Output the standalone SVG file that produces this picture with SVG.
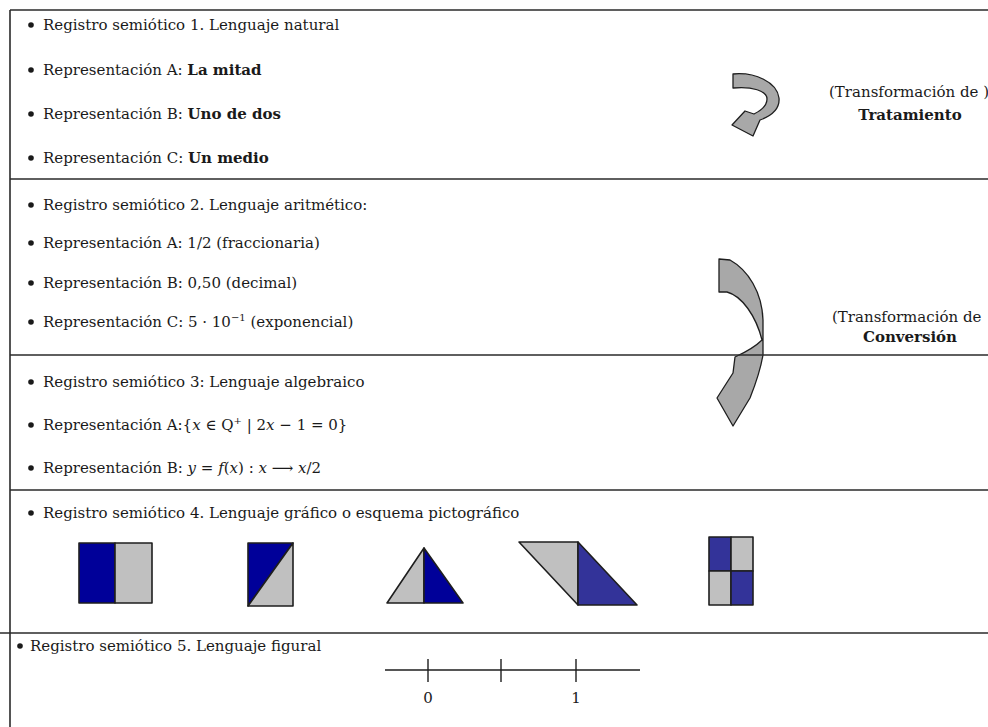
<svg xmlns="http://www.w3.org/2000/svg" width="988" height="727" viewBox="0 0 988 727">
<style>
.t{font-family:"DejaVu Serif","Liberation Serif",serif;font-size:15px;fill:#1a1a1a}
.b{font-weight:bold}
.i{font-style:italic}
.sup{font-size:10px}
.bul{fill:#1a1a1a}
.rule{stroke:#2a2a2a;stroke-width:1.6;fill:none}
.shp{stroke:#1e1e1e;stroke-width:1.6;stroke-linejoin:round}
.dk{fill:#000099}
.md{fill:#333399}
.gr{fill:#c0c0c0}
.arr{fill:#a8a8a8;stroke:#1e1e1e;stroke-width:1.3;stroke-linejoin:round}
.nl{stroke:#1e1e1e;stroke-width:1.4}
</style>
<rect width="988" height="727" fill="#ffffff"/>

<g id="connectors">
  <path id="arrow-tratamiento" class="arr" d="M733,74 C755,72 777,82 779,98 C780,109 771,116 760,120 L753,136 L732,125 L745,111 L754,114 C762,110 767,105 767,99 C767,91 752,86 733,88 Z"/>
  <path id="arrow-conversion" class="arr" d="M719,259 L730,260 C748,270 762,292 763,320 L763,355 C760,372 754,388 750,398 L733,426 L717,398 L733,373 L735,357 C746,352 756,346 762,340 C756,316 742,296 727,292 L719,292 Z"/>
</g>

<g id="frame">
  <line class="rule" x1="10" y1="10" x2="988" y2="10"/>
  <line class="rule" x1="10" y1="10" x2="10" y2="727"/>
  <line class="rule" x1="10" y1="179" x2="988" y2="179" stroke="#444"/>
  <line class="rule" x1="10" y1="355" x2="988" y2="355"/>
  <line class="rule" x1="10" y1="490" x2="988" y2="490"/>
  <line class="rule" x1="0" y1="633" x2="988" y2="633"/>
</g>

<g id="section1">
  <circle class="bul" cx="31" cy="25" r="2.8"/>
  <text class="t" x="43" y="30">Registro semiótico 1. Lenguaje natural</text>
  <circle class="bul" cx="31" cy="70" r="2.8"/>
  <text class="t" x="43" y="75">Representación A: <tspan class="b">La mitad</tspan></text>
  <circle class="bul" cx="31" cy="114" r="2.8"/>
  <text class="t" x="43" y="119">Representación B: <tspan class="b">Uno de dos</tspan></text>
  <circle class="bul" cx="31" cy="158" r="2.8"/>
  <text class="t" x="43" y="163">Representación C: <tspan class="b">Un medio</tspan></text>
</g>

<g id="label-tratamiento">
  <text class="t" x="829" y="97">(Transformación de )</text>
  <text class="t b" x="910" y="120" text-anchor="middle">Tratamiento</text>
</g>

<g id="section2">
  <circle class="bul" cx="31" cy="205" r="2.8"/>
  <text class="t" x="43" y="210">Registro semiótico 2. Lenguaje aritmético:</text>
  <circle class="bul" cx="31" cy="243" r="2.8"/>
  <text class="t" x="43" y="248">Representación A: 1/2 (fraccionaria)</text>
  <circle class="bul" cx="31" cy="283" r="2.8"/>
  <text class="t" x="43" y="288">Representación B: 0,50 (decimal)</text>
  <circle class="bul" cx="31" cy="322" r="2.8"/>
  <text class="t" x="43" y="327">Representación C: 5 · 10<tspan class="sup" dy="-6">−1</tspan><tspan dy="6"> (exponencial)</tspan></text>
</g>

<g id="label-conversion">
  <text class="t" x="832" y="322">(Transformación de</text>
  <text class="t b" x="910" y="342" text-anchor="middle">Conversión</text>
</g>

<g id="section3">
  <circle class="bul" cx="31" cy="382" r="2.8"/>
  <text class="t" x="43" y="387">Registro semiótico 3: Lenguaje algebraico</text>
  <circle class="bul" cx="31" cy="425" r="2.8"/>
  <text class="t" x="43" y="430">Representación A:{<tspan class="i">x</tspan> ∈ Q<tspan class="sup" dy="-6">+</tspan><tspan dy="6"> | 2</tspan><tspan class="i">x</tspan> − 1 = 0}</text>
  <circle class="bul" cx="31" cy="468" r="2.8"/>
  <text class="t" x="43" y="473">Representación B: <tspan class="i">y</tspan> = <tspan class="i">f</tspan>(<tspan class="i">x</tspan>) : <tspan class="i">x</tspan> ⟶ <tspan class="i">x</tspan>/2</text>
</g>

<g id="section4">
  <circle class="bul" cx="31" cy="513" r="2.8"/>
  <text class="t" x="43" y="518">Registro semiótico 4. Lenguaje gráfico o esquema pictográfico</text>
  <g id="fig1">
    <rect class="shp dk" x="79" y="543" width="36" height="60"/>
    <rect class="shp gr" x="115" y="543" width="37" height="60"/>
  </g>
  <g id="fig2">
    <polygon class="shp dk" points="248,543 293,543 248,606"/>
    <polygon class="shp gr" points="293,543 293,606 248,606"/>
  </g>
  <g id="fig3">
    <polygon class="shp gr" points="424,548 424,603 387,603"/>
    <polygon class="shp dk" points="424,548 463,603 424,603"/>
  </g>
  <g id="fig4">
    <polygon class="shp gr" points="519,542 578,542 578,605"/>
    <polygon class="shp md" points="578,542 637,605 578,605"/>
  </g>
  <g id="fig5">
    <rect class="shp md" x="709" y="537" width="22" height="34"/>
    <rect class="shp gr" x="731" y="537" width="22" height="34"/>
    <rect class="shp gr" x="709" y="571" width="22" height="34"/>
    <rect class="shp md" x="731" y="571" width="22" height="34"/>
  </g>
</g>

<g id="section5">
  <circle class="bul" cx="20" cy="646" r="2.8"/>
  <text class="t" x="30" y="651">Registro semiótico 5. Lenguaje figural</text>
  <g id="numberline">
    <line class="nl" x1="385" y1="670" x2="640" y2="670"/>
    <line class="nl" x1="428" y1="659" x2="428" y2="682"/>
    <line class="nl" x1="501" y1="659" x2="501" y2="682" stroke-width="3"/>
    <line class="nl" x1="576" y1="659" x2="576" y2="682"/>
    <text class="t" x="428" y="703" text-anchor="middle">0</text>
    <text class="t" x="576" y="703" text-anchor="middle">1</text>
  </g>
</g>
</svg>
